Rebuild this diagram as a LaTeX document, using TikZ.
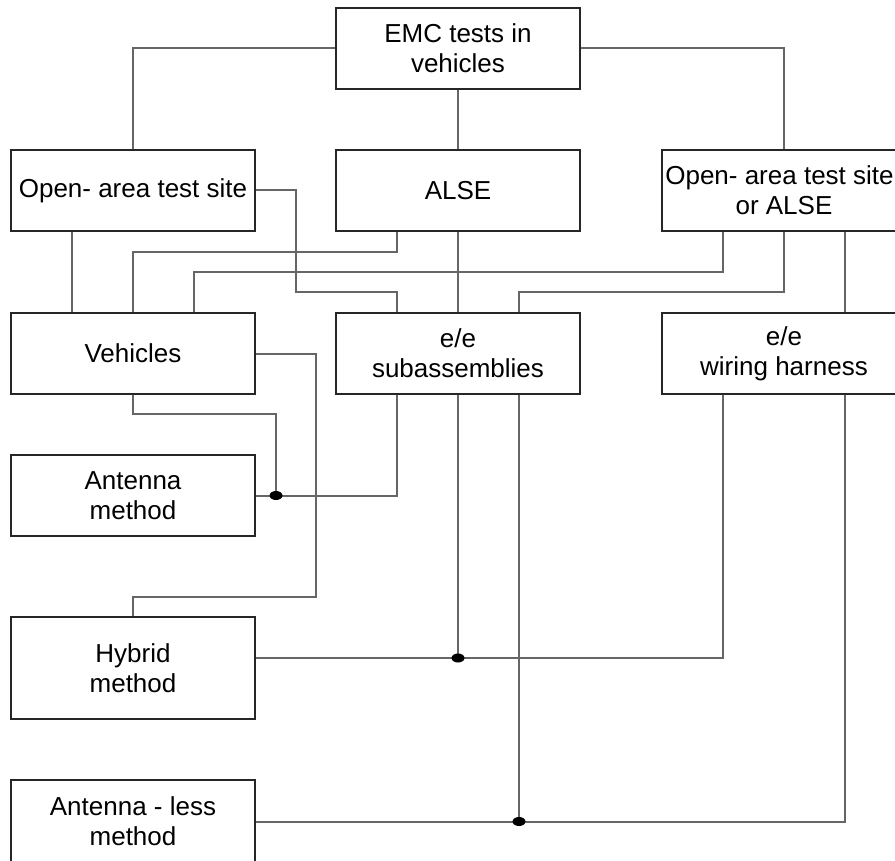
\documentclass[tikz,border=0pt]{standalone}
\usepackage{fontspec}
\setmainfont{Liberation Sans}
\usetikzlibrary{positioning}

\begin{document}
\begin{tikzpicture}[x=1pt,y=-1pt,
  box/.style={draw=black!85,line width=1.7pt,minimum width=244pt,minimum height=81pt,
    inner sep=0pt,align=center,font=\fontsize{26}{30}\selectfont},
  wire/.style={draw=black!60,line width=2pt}]

\useasboundingbox (0,0) rectangle (895,861);
\clip (0,0) rectangle (895,861);

\node[box] (emc) at (458,48.5) {EMC tests in\\vehicles};

\node[box] (opl) at (133,190.5) {Open- area test site};
\node[box] (alse) at (458,190.5) {ALSE};
\node[box] (opr) at (784,190.5) {\hspace*{-9pt}Open- area test site\\or ALSE};

\node[box] (veh) at (133,353.5) {Vehicles};
\node[box] (sub) at (458,353.5) {e/e\\subassemblies};
\node[box] (harn) at (784,353.5) {e/e\\wiring harness};

\node[box] (ant) at (133,495.5) {Antenna\\method};
\node[box,minimum height=102pt] (hyb) at (133,668) {Hybrid\\method};
\node[box,minimum height=83pt] (aless) at (133,821.5) {Antenna - less\\method};

\coordinate (k1) at (296,292);
\coordinate (k2) at (133,252);
\coordinate (k3) at (194,272);
\coordinate (k4) at (519,292);
\coordinate (k5) at (316,597);
\coordinate (k6) at (276,414);
\coordinate (j1) at (276,495.5);
\coordinate (j2) at (458,658);
\coordinate (j3) at (519,821.5);

\draw[wire] (emc.west) -| (opl.north);
\draw[wire] (emc.east) -| (opr.north);
\draw[wire] (emc.south) -- (alse.north);

\draw[wire] ([xshift=-61pt]opl.south) -- ([xshift=-61pt]veh.north);
\draw[wire] (opl.east) -| (k1) -| ([xshift=-61pt]sub.north);
\draw[wire] ([xshift=-61pt]alse.south) |- (k2) -- (veh.north);
\draw[wire] (alse.south) -- (sub.north);
\draw[wire] ([xshift=-61pt]opr.south) |- (k3) -- ([xshift=61pt]veh.north);
\draw[wire] (opr.south) |- (k4) -- ([xshift=61pt]sub.north);
\draw[wire] ([xshift=61pt]opr.south) -- ([xshift=61pt]harn.north);

\draw[wire] (veh.east) -| (k5) -| (hyb.north);
\draw[wire] (veh.south) |- (k6) -- (j1);
\draw[wire] (ant.east) -| ([xshift=-61pt]sub.south);
\draw[wire] (sub.south) -- (j2);
\draw[wire] (hyb.east |- j2) -| ([xshift=-61pt]harn.south);
\draw[wire] ([xshift=61pt]sub.south) -- (j3);
\draw[wire] (aless.east) -| ([xshift=61pt]harn.south);

\foreach \j in {j1,j2,j3}
    \fill (\j) ellipse [x radius=6.5pt,y radius=4.5pt];

\end{tikzpicture}
\end{document}
